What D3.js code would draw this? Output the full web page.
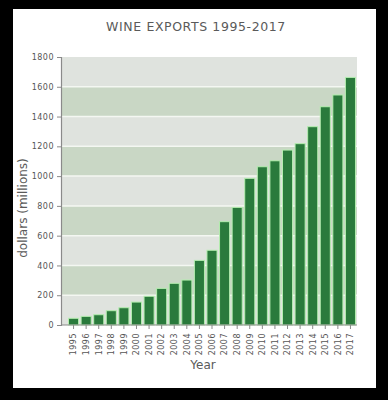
<!DOCTYPE html>
<html>
<head>
<meta charset="utf-8">
<script src="https://cdn.jsdelivr.net/npm/d3@7"></script>
<style>
  html, body { margin: 0; padding: 0; background: #000; }
  svg { display: block; }
</style>
</head>
<body>
<div id="container"></div>
<script>
const years = ["1995","1996","1997","1998","1999","2000","2001","2002","2003","2004","2005","2006",
  "2007","2008","2009","2010","2011","2012","2013","2014","2015","2016","2017"];
const exports = [45, 58, 69, 96, 116, 154, 193, 246, 280, 302, 434, 502,
  694, 790, 985, 1063, 1103, 1175, 1218, 1332, 1466, 1545, 1663];
const yTicks = [0, 200, 400, 600, 800, 1000, 1200, 1400, 1600, 1800];

const width = 388, height = 400;
const svg = d3.select("#container").append("svg")
  .attr("width", width).attr("height", height);

// white card on black
svg.append("rect").attr("x", 13).attr("y", 9).attr("width", 363).attr("height", 379)
  .attr("fill", "#fff");

const x = d3.scaleBand().domain(years).range([66, 358]).paddingInner(0.2).paddingOuter(0.2);
const y = d3.scaleLinear().domain([0, 1800]).range([325, 57]);
const left = 61, right = 357;

// alternating bands
const bands = d3.pairs(yTicks);
svg.append("g").selectAll("rect").data(bands).join("rect")
  .attr("x", left).attr("width", right - left)
  .attr("y", d => y(d[1])).attr("height", d => y(d[0]) - y(d[1]))
  .attr("fill", (d, i) => i % 2 === 0 ? "#dfe3de" : "#c9d7c5");

svg.append("g").selectAll("line").data(yTicks.slice(1, -1)).join("line")
  .attr("x1", left).attr("x2", right)
  .attr("y1", d => y(d)).attr("y2", d => y(d))
  .attr("stroke", "#f4f7f2").attr("stroke-width", 1.5);

// bars
svg.append("g").selectAll("rect").data(exports).join("rect")
  .attr("x", (d, i) => x(years[i]))
  .attr("width", x.bandwidth())
  .attr("y", d => y(d))
  .attr("height", d => y(0) - y(d))
  .attr("fill", "#2a7a3c")
  .attr("stroke", "#b5eeb0").attr("stroke-width", 1);

// axes
const yAxis = svg.append("g").attr("transform", `translate(${left},0)`)
  .call(d3.axisLeft(y).tickValues(yTicks).tickFormat(d3.format("d")).tickSize(4).tickPadding(3));
const xAxis = svg.append("g").attr("transform", `translate(0,${y(0)})`)
  .call(d3.axisBottom(x).tickSize(4).tickSizeOuter(0));
xAxis.select(".domain").attr("d", `M${left},0H${right}`);

for (const g of [yAxis, xAxis]) {
  g.select(".domain").attr("stroke", "#8a8a8a").attr("stroke-width", 1.2);
  g.selectAll(".tick line").attr("stroke", "#8a8a8a");
  g.selectAll("text").attr("fill", "#555").attr("font-size", 8)
    .attr("font-family", "DejaVu Sans").attr("letter-spacing", 0.5);
}
xAxis.selectAll("text")
  .attr("text-anchor", "end")
  .attr("transform", "rotate(-90)")
  .attr("x", -8).attr("y", 0).attr("dy", "0.35em");

// titles
svg.append("text").attr("x", 196).attr("y", 31).attr("text-anchor", "middle")
  .attr("font-family", "DejaVu Sans").attr("font-size", 12.5).attr("fill", "#5a5a5a")
  .attr("letter-spacing", 0.6)
  .text("WINE EXPORTS 1995-2017");

svg.append("text").attr("transform", "translate(27,208) rotate(-90)")
  .attr("text-anchor", "middle")
  .attr("font-family", "DejaVu Sans").attr("font-size", 12).attr("fill", "#5a5a5a")
  .text("dollars (millions)");

svg.append("text").attr("x", 203).attr("y", 369).attr("text-anchor", "middle")
  .attr("font-family", "DejaVu Sans").attr("font-size", 12).attr("fill", "#5a5a5a")
  .text("Year");
</script>
</body>
</html>
